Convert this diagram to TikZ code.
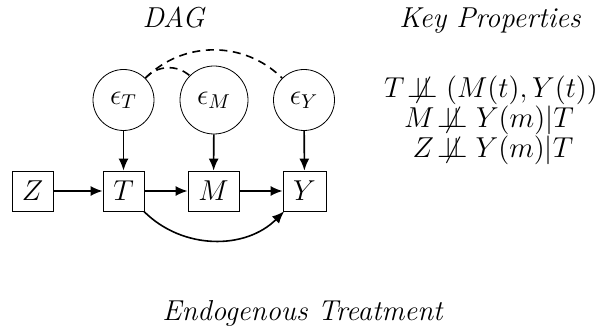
\documentclass[tikz,border=0pt]{standalone}
\usetikzlibrary{arrows.meta}
\newcommand{\nindep}{\not\!\perp\!\!\!\perp}
\begin{document}
\begin{tikzpicture}[x=0.5pt,y=-0.5pt,
  var/.style={draw,rectangle,inner sep=1pt,minimum height=20pt,font=\Large},
  noise/.style={draw,circle,inner sep=1pt,font=\Large},
  causal/.style={thick,-{Latex[length=6pt,width=5pt]}},
  latent/.style={thick,dash pattern=on 4pt off 2.8pt},
  title/.style={font=\Large\itshape,anchor=base},
  prop/.style={font=\Large,anchor=base}]
\useasboundingbox (0,0) rectangle (603,331);

% headings
\node[title] (dagtitle) at (173.5,28) {DAG};
\node[title] (keytitle) at (490,28) {Key Properties};
\node[title] (caption) at (302.5,320) {Endogenous Treatment};

% observed variables
\node[var,minimum width=20.5pt] (Z) at (32.5,191) {$Z$};
\node[var,minimum width=20.5pt] (T) at (123.5,191) {$T$};
\node[var,minimum width=25.5pt] (M) at (213.5,191) {$M$};
\node[var,minimum width=21.5pt] (Y) at (304.5,191) {$Y$};

% error terms
\node[noise,minimum size=30.5pt] (eT) at (123.5,100) {$\epsilon_T$};
\node[noise,minimum size=34pt] (eM) at (214,100) {$\epsilon_M$};
\node[noise,minimum size=30.5pt] (eY) at (304,100) {$\epsilon_Y$};

% structural edges
\draw[causal] (Z) -- (T);
\draw[causal] (T) -- (M);
\draw[causal] (M) -- (Y);
\draw[causal] (T) to[bend right=45] (Y);
\draw[causal] (eT) -- (T);
\draw[causal] (eM) -- (M);
\draw[causal] (eY) -- (Y);

% correlated errors
\draw[latent] (eT) to[bend left=45] (eY);
\draw[latent] (eT) to[bend left=45] (eM);

% independence statements
\node[prop] (p1) at (491,98) {$T \nindep (M(t),Y(t))$};
\node[prop] (p2) at (489,128) {$M \nindep Y(m)|T$};
\node[prop] (p3) at (493,157) {$Z \nindep Y(m)|T$};
\end{tikzpicture}
\end{document}
